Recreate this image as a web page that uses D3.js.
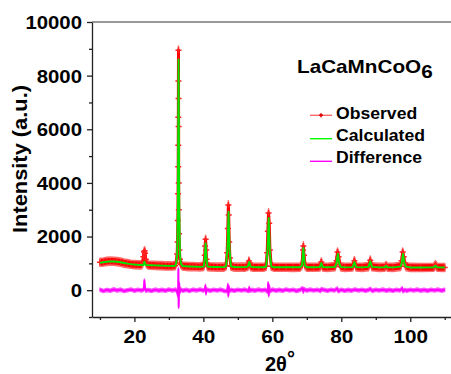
<!DOCTYPE html>
<html><head><meta charset="utf-8">
<script src="https://cdn.jsdelivr.net/npm/d3@7"></script>
<style>
html,body{margin:0;padding:0;background:#fff;}
svg{display:block;font-family:"Liberation Sans",Arial,sans-serif;font-weight:bold;}
</style></head><body>
<svg id="chart" width="451" height="374"></svg>
<script>
// ---- data: [2theta, intensity] ----
const observed = [
[10,1040],[11,1050],[12,1075],[13,1085],[14,1080],[15,1065],[16,1045],[17,1010],[18,990],[19,965],[20,955],[21,945],[22,945],[22.4,1000],[22.6,1250],[22.8,1420],[22.95,1470],[23.1,1380],[23.3,1150],[23.5,980],[24,940],[25,930],[26,925],[27,915],[28,915],[29,905],[30,905],[31,900],[31.8,915],[32.1,1010],[32.4,1350],[32.5,1800],[32.6,2600],[32.66,3600],[32.7,4600],[32.72,5400],[32.74,6450],[32.76,7800],[32.78,8950],[32.8,7150],[32.82,6100],[32.84,4000],[32.88,3000],[32.95,2100],[33.05,1500],[33.2,1150],[33.5,960],[34,900],[35,890],[36,880],[37,880],[38,875],[39,870],[40.1,890],[40.4,1300],[40.5,1650],[40.65,1900],[40.8,1500],[40.9,1150],[41.2,880],[42,870],[43,865],[44,860],[45,860],[46,860],[46.6,910],[46.9,1400],[47.1,2300],[47.25,3180],[47.35,2800],[47.5,1800],[47.7,1200],[48,890],[49,860],[50,860],[51,860],[52,858],[52.9,890],[53.2,1085],[53.4,1000],[53.7,880],[54.5,858],[56,856],[57.5,856],[58.2,890],[58.5,1400],[58.7,2200],[58.9,2880],[59.1,2500],[59.3,1500],[59.7,890],[60.5,856],[62,855],[64,854],[66,853],[68,855],[68.6,940],[68.9,1500],[69.0,1650],[69.2,1300],[69.5,920],[70,856],[72,854],[73.8,865],[74.2,1050],[74.6,865],[76,853],[78.2,880],[78.6,1100],[78.9,1420],[79.2,1250],[79.6,950],[79.9,870],[81,852],[83.3,865],[83.8,1100],[84.3,865],[86,852],[87.9,880],[88.4,1120],[88.9,875],[91,850],[92.6,858],[93.0,920],[93.4,858],[95,850],[97.2,890],[97.5,1100],[97.8,1420],[98.1,1250],[98.4,1000],[98.8,880],[100,848],[103,846],[106.8,855],[107.3,950],[107.8,855],[110,845]
];
const calculated = [
[10,1020],[11,1040],[12,1060],[13,1070],[14,1070],[15,1060],[16,1040],[17,1015],[18,990],[19,970],[20,955],[21,945],[22,940],[22.6,940],[22.9,1060],[23.2,940],[24,935],[25,930],[26,925],[27,920],[28,915],[29,910],[30,905],[31,900],[31.8,910],[32.1,1000],[32.4,1300],[32.6,3000],[32.8,8600],[33.0,3200],[33.2,1300],[33.5,980],[34,900],[35,890],[36,885],[37,880],[38,875],[39,870],[40.1,880],[40.4,1200],[40.65,1750],[40.9,1200],[41.2,880],[42,870],[43,865],[44,862],[45,860],[46,860],[46.6,900],[47.0,1600],[47.3,2930],[47.6,1500],[48,890],[49,862],[50,860],[51,858],[52,858],[52.9,880],[53.3,1050],[53.7,880],[54.5,858],[56,856],[57.5,856],[58.2,880],[58.6,1500],[58.95,2690],[59.3,1400],[59.7,880],[60.5,856],[62,855],[64,854],[66,853],[68,855],[68.6,920],[69.0,1570],[69.4,920],[70,856],[72,854],[73.8,860],[74.2,1010],[74.6,860],[76,853],[78.2,870],[78.6,1000],[79.0,1350],[79.4,1000],[79.8,870],[81,852],[83.3,860],[83.8,1050],[84.3,860],[86,852],[87.9,870],[88.4,1080],[88.9,870],[91,850],[92.6,855],[93.0,900],[93.4,855],[95,850],[97.2,880],[97.5,1000],[97.9,1350],[98.3,1000],[98.7,880],[100,848],[103,846],[106.8,850],[107.3,910],[107.8,850],[110,845]
];
const difference = [
[10,20],[11,-30],[12,10],[13,-20],[14,30],[15,-10],[16,20],[17,-30],[18,0],[19,25],[20,-20],[21,15],[22,-10],[22.7,20],[22.9,360],[23.05,120],[23.3,-20],[24,10],[25,-25],[26,20],[27,-15],[28,10],[29,-20],[30,25],[31,-10],[32,20],[32.4,-60],[32.6,-200],[32.7,150],[32.76,780],[32.82,-620],[32.9,-300],[33.0,250],[33.15,-80],[33.4,30],[34,-20],[35,15],[36,-25],[37,20],[38,-10],[39,25],[40,-15],[40.45,30],[40.6,160],[40.75,-120],[40.95,20],[42,-20],[43,15],[44,-10],[45,20],[46,-25],[46.9,-40],[47.1,200],[47.25,-200],[47.4,120],[47.6,-30],[48,10],[49,-20],[50,15],[51,-10],[52,20],[53.1,-30],[53.3,90],[53.5,-20],[54,10],[55,-15],[56,20],[57,-10],[58,15],[58.6,-60],[58.8,260],[58.95,-190],[59.1,150],[59.3,-40],[60,20],[61,-15],[62,10],[63,-20],[64,25],[65,-10],[66,15],[67,-25],[68,10],[68.8,70],[69.0,-60],[69.2,40],[70,-15],[71,20],[72,-10],[73,15],[74,-25],[74.2,40],[75,10],[76,-20],[77,15],[78,-10],[78.9,60],[79.1,-40],[80,15],[81,-20],[82,10],[83,-15],[84,25],[85,-10],[86,15],[87,-20],[88,10],[88.4,50],[89,-25],[90,15],[91,-10],[92,20],[93,-15],[94,10],[95,-20],[96,15],[97,-10],[97.7,70],[97.9,-40],[98.5,10],[99,-20],[100,15],[101,-10],[102,20],[103,-15],[104,10],[105,-20],[106,15],[107,-10],[108,20],[109,-15],[110,10]
];
const xMajorTicks = [20,40,60,80,100];
const xMinorTicks = [10,30,50,70,90,110];
const yMajorTicks = [0,2000,4000,6000,8000,10000];
const yMinorTicks = [-1000,1000,3000,5000,7000,9000];
const legendItems = ["Observed","Calculated","Difference"];
const compound = "LaCaMnCoO";
const compoundSub = "6";
const xTitle = "2θ";
const xTitleSup = "°";
const yTitle = "Intensity (a.u.)";

// ---- drawing ----
const svg = d3.select("#chart");
const x = d3.scaleLinear().domain([7.7, 111.7]).range([92, 450.6]);
const y = d3.scaleLinear().domain([-1000, 10000]).range([317, 22]);
const axisColor = "#222";
const obsSpread = 150;   // visual half-thickness of the noisy observed band
const diffSpread = 60;   // visual half-thickness of the difference band

svg.append("line").attr("x1", x(7.7)).attr("x2", 451).attr("y1", y(10000)).attr("y2", y(10000))
  .attr("stroke", "#777").attr("stroke-width", 1.4);

function styleAxis(g){
  g.selectAll("path,line").attr("stroke", axisColor).attr("stroke-width", 1.3);
  g.selectAll("text").remove();
}
const gy = svg.append("g").attr("transform", `translate(${x(7.7)},0)`)
  .call(d3.axisLeft(y).tickValues(yMajorTicks).tickSize(5).tickSizeOuter(0));
styleAxis(gy);
gy.selectAll(".tick").append("text")
  .attr("transform", "translate(-10,0) scale(1.15,1)")
  .attr("dy", "0.36em").attr("text-anchor", "end")
  .attr("font-size", 17.7).attr("font-weight", "bold").attr("fill", "#000")
  .text(d => String(d));
const gym = svg.append("g").attr("transform", `translate(${x(7.7)},0)`)
  .call(d3.axisLeft(y).tickValues(yMinorTicks).tickSize(3).tickSizeOuter(0));
styleAxis(gym); gym.select(".domain").remove();

const gx = svg.append("g").attr("transform", `translate(0,${y(-1000)})`)
  .call(d3.axisBottom(x).tickValues(xMajorTicks).tickSize(5).tickSizeOuter(0));
styleAxis(gx);
gx.selectAll(".tick").append("text")
  .attr("transform", "translate(0,25.7) scale(1.15,1)")
  .attr("text-anchor", "middle")
  .attr("font-size", 18).attr("font-weight", "bold").attr("fill", "#000")
  .text(d => String(d));
const gxm = svg.append("g").attr("transform", `translate(0,${y(-1000)})`)
  .call(d3.axisBottom(x).tickValues(xMinorTicks).tickSize(3).tickSizeOuter(0));
styleAxis(gxm); gxm.select(".domain").remove();

svg.append("text").attr("transform", "translate(27,159) rotate(-90) scale(1.04,1)")
  .attr("text-anchor", "middle").attr("font-size", 21).attr("fill", "#000").text(yTitle);
const xt = svg.append("text").attr("x", 265).attr("y", 370.7).attr("font-size", 20).attr("fill", "#000");
xt.append("tspan").text(xTitle);
xt.append("tspan").attr("dy", -6).attr("font-size", 20).text(xTitleSup);

// data
const line = d3.line().x(d => x(d[0])).y(d => y(d[1]));
const band = (s) => d3.area().x(d => x(d[0])).y0(d => y(d[1] - s)).y1(d => y(d[1] + s));
const plot = svg.append("g");
plot.append("path").datum(observed).attr("d", band(obsSpread)).attr("fill", "#ff0000")
  .attr("stroke", "#ff6b6b").attr("stroke-width", 1.6).attr("stroke-linejoin", "round");
plot.append("path").datum(observed).attr("d", line).attr("fill", "none")
  .attr("stroke", "#ff0000").attr("stroke-width", 3).attr("stroke-linejoin", "round");
plot.selectAll("path.obsMark").data(observed).join("path").attr("class", "obsMark")
  .attr("transform", d => `translate(${x(d[0])},${y(d[1])})`)
  .attr("d", "M-3,0H3M0,-3V3").attr("stroke", "#ff2020").attr("stroke-width", 1.5);
plot.append("path").datum(difference).attr("d", band(diffSpread)).attr("fill", "#ff00ff")
  .attr("stroke", "#ff55ff").attr("stroke-width", 1.4).attr("stroke-linejoin", "round");
plot.append("path").datum(difference).attr("d", line).attr("fill", "none")
  .attr("stroke", "#ff00ff").attr("stroke-width", 1.8).attr("stroke-linejoin", "round");
plot.append("path").datum(calculated).attr("d", line).attr("fill", "none")
  .attr("stroke", "#00e600").attr("stroke-width", 1.9).attr("stroke-linejoin", "round");

const tt = svg.append("text").attr("transform", "translate(297,73) scale(1.17,1)")
  .attr("font-size", 17.7).attr("fill", "#000");
tt.append("tspan").text(compound);
tt.append("tspan").attr("dy", 5).text(compoundSub);

const legColors = ["#ff6b6b", "#00ff00", "#ff00ff"];
const legLineY = [115.3, 138.7, 161.3];
const legTextY = [118.7, 141.3, 163];
legendItems.forEach((name, i) => {
  svg.append("line").attr("x1", 310).attr("x2", 332).attr("y1", legLineY[i]).attr("y2", legLineY[i])
    .attr("stroke", legColors[i]).attr("stroke-width", 1.4);
  if (i === 0) {
    svg.append("path").attr("transform", `translate(321,${legLineY[i]})`)
      .attr("d", "M-2,0H2M0,-2V2").attr("stroke", "#e00000").attr("stroke-width", 1.6);
  }
  svg.append("text").attr("transform", `translate(336,${legTextY[i]}) scale(1.08,1)`)
    .attr("font-size", 16.3).attr("fill", "#000").text(name);
});
</script>
</body></html>
